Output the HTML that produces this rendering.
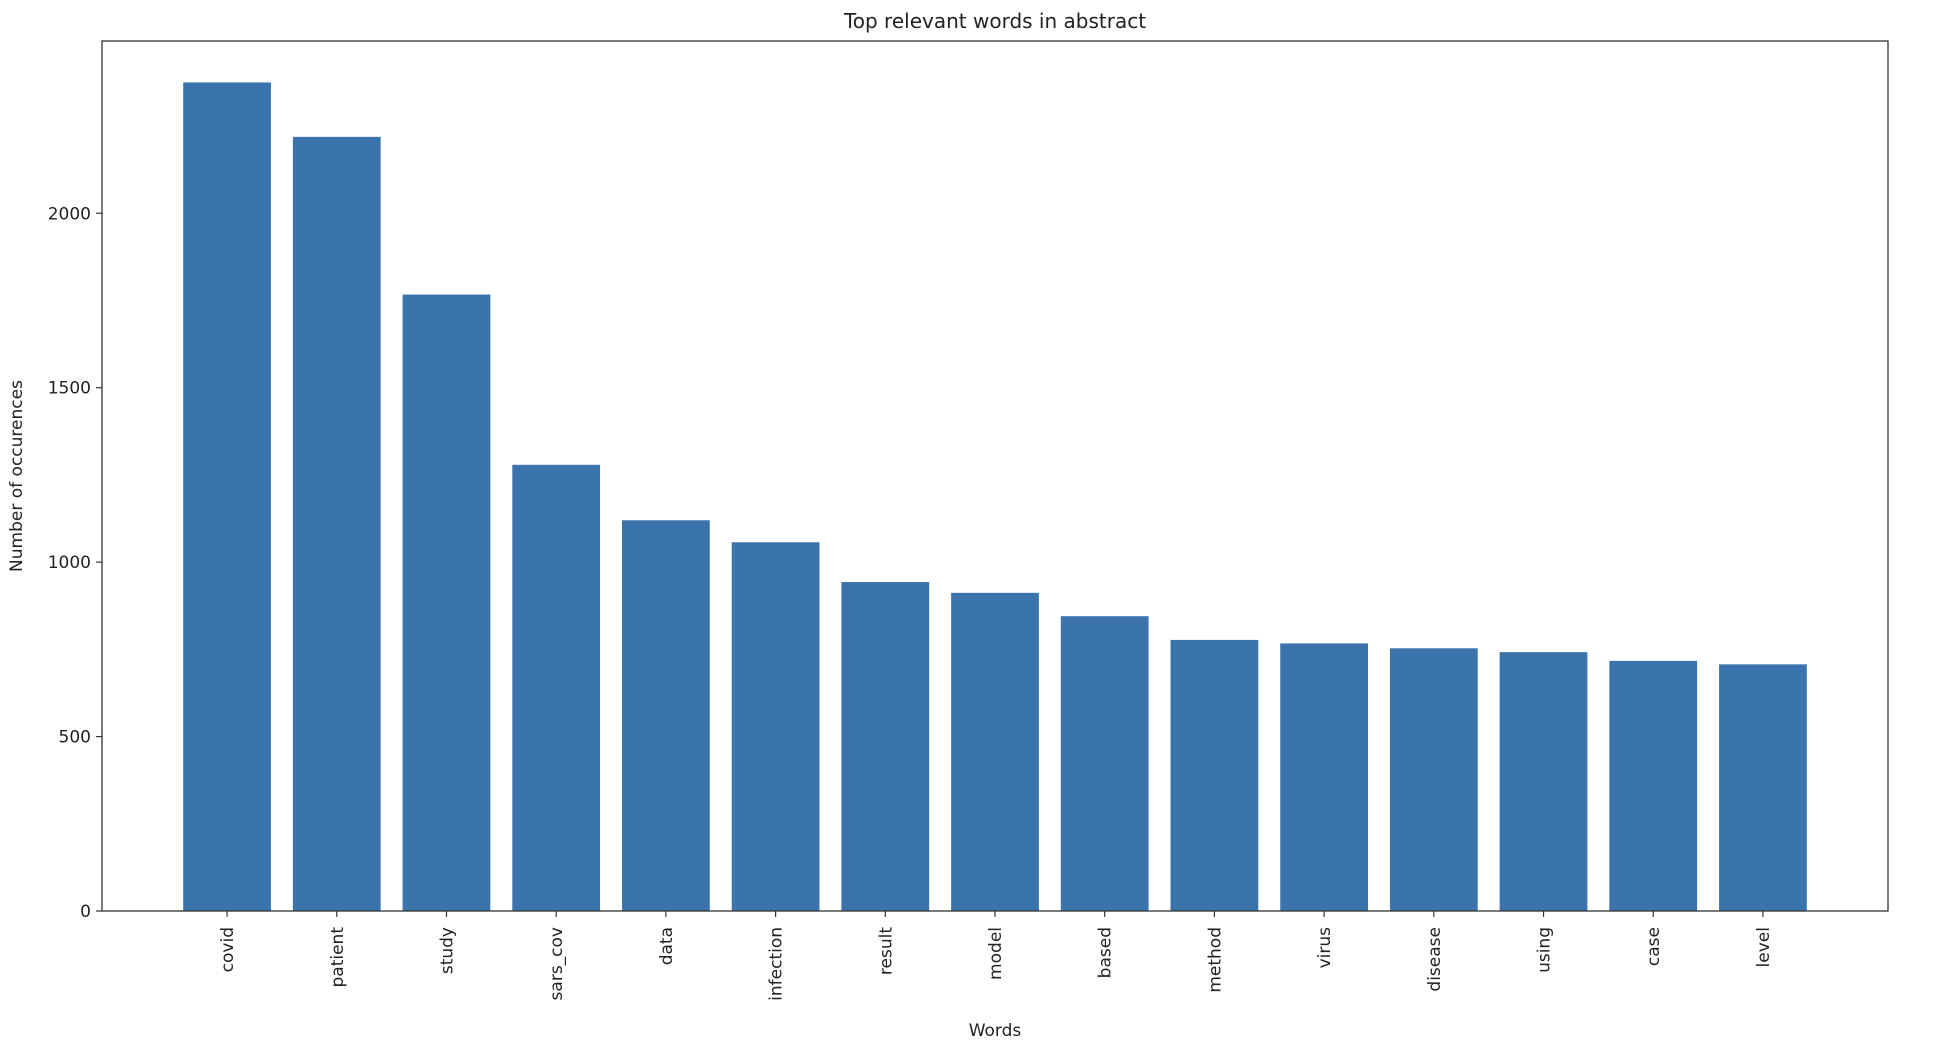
<!DOCTYPE html>
<html><head><meta charset="utf-8"><style>
body{margin:0;background:#fff;}
svg{display:block;font-family:"DejaVu Sans","Liberation Sans",sans-serif;}
</style></head><body>
<svg id="chart" width="1934" height="1056">
<text x="995" y="28" font-size="20" text-anchor="middle" fill="#222">Top relevant words in abstract</text>
<text x="995" y="1036" font-size="17" text-anchor="middle" fill="#222">Words</text>
<text transform="translate(22,476) rotate(-90)" font-size="17" text-anchor="middle" fill="#222">Number of occurences</text>
<g id="bars"></g><g id="axes"></g>
</svg>
<script>
const categories=["covid","patient","study","sars_cov","data","infection","result","model","based","method","virus","disease","using","case","level"];
const values=[2375,2219,1767,1279,1120,1057,943,912,845,777,767,753,742,717,707];
const yTicks=[0,500,1000,1500,2000];
const L=102,R=1888,T=41,B=911;
const xmin=-1.14,xmax=categories.length-1+1.14;
const ymax=Math.max(...values)*1.05;
const x=i=>L+(i-xmin)/(xmax-xmin)*(R-L);
const y=v=>B-v/ymax*(B-T);
const ns="http://www.w3.org/2000/svg";
const bars=document.getElementById('bars'),axes=document.getElementById('axes');
const bw=0.8*(x(1)-x(0));
function mk(tag,attrs,parent){const e=document.createElementNS(ns,tag);for(const k in attrs)e.setAttribute(k,attrs[k]);parent.appendChild(e);return e;}
categories.forEach((c,i)=>{
 const r=mk('rect',{x:x(i)-bw/2,y:y(values[i]),width:bw,height:B-y(values[i]),fill:'#3b74ad'},bars);
 
 
 const t=mk('line',{x1:x(i),x2:x(i),y1:B,y2:B+6,stroke:'#333','stroke-width':1.2},axes);
 
 
 const tx=mk('text',{transform:`translate(${x(i)+6},${B+16}) rotate(-90)`,'font-size':17,'text-anchor':'end',fill:'#222'},axes);
 tx.textContent=c;
 
 
});
yTicks.forEach(v=>{
 const t=mk('line',{x1:L-6,x2:L,y1:y(v),y2:y(v),stroke:'#333','stroke-width':1.2},axes);
 
 
 const tx=mk('text',{x:L-11,y:y(v)+6,'font-size':17,'text-anchor':'end',fill:'#222'},axes);
 tx.textContent=v;
 
 
});
const fr=mk('rect',{x:L,y:T,width:R-L,height:B-T,fill:'none',stroke:'#333','stroke-width':1.3},axes);


</script>
</body></html>
